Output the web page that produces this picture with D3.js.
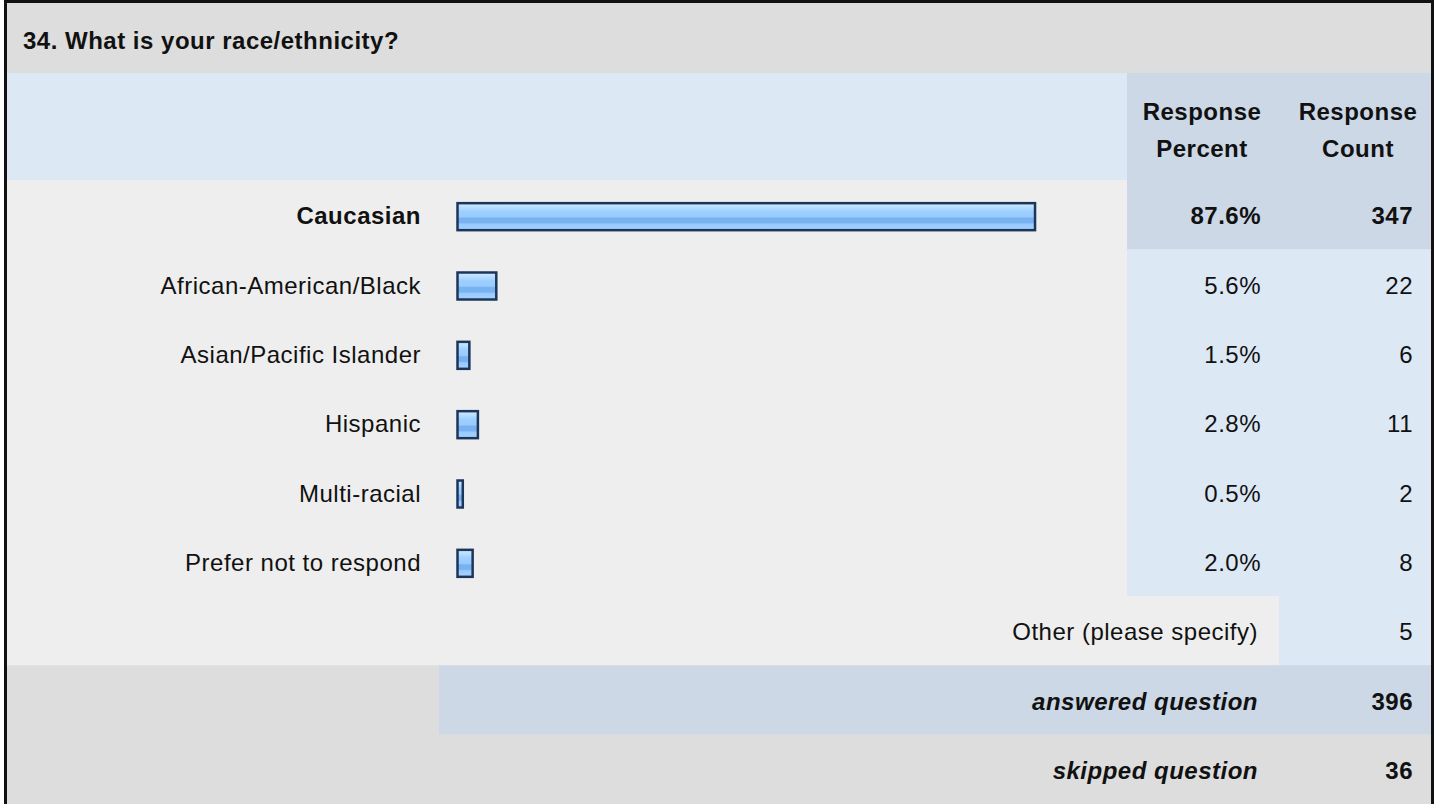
<!DOCTYPE html>
<html>
<head>
<meta charset="utf-8">
<script src="https://cdn.jsdelivr.net/npm/d3@7"></script>
<style>
  body { margin: 0; background: #fff; }
  text { font-family: Arial, "Liberation Sans", sans-serif; font-size: 24px; letter-spacing: 0.5px; fill: #111; }
  .bold { font-weight: bold; }
  .ital { font-style: italic; font-weight: bold; }
</style>
</head>
<body>
<div id="chart"></div>
<script>
/****************************************/
/*****  Data   *****/
/****************************************/
const questionTitle = "34. What is your race/ethnicity?";
const answerLabels = ["Caucasian", "African-American/Black", "Asian/Pacific Islander", "Hispanic", "Multi-racial", "Prefer not to respond"];
const responsePercents = [87.6, 5.6, 1.5, 2.8, 0.5, 2.0];
const responseCounts = [347, 22, 6, 11, 2, 8];
const otherLabel = "Other (please specify)";
const otherCount = 5;
const summaryLabels = ["answered question", "skipped question"];
const summaryCounts = [396, 36];
const headerPercent = ["Response", "Percent"];
const headerCount = ["Response", "Count"];

/****************************************/
/*****  Layout   *****/
/****************************************/
const width = 1434;
const height = 804;
const left = 6;
const right = 1431;
const titleBottom = 73;
const headerBottom = 180;
const pctColX = 1127;     // start of percent column
const cntColX = 1279;     // start of count column
const labelRight = 421;
const barLeft = 456;

const svg = d3.select('#chart')
  .append('svg')
    .attr('width', width)
    .attr('height', height);

// one band for every row under the header
const rowKeys = answerLabels.concat(['other', 'answered', 'skipped']);
const y = d3.scaleBand()
  .domain(rowKeys)
  .range([headerBottom, height]);

const maxPct = d3.max(responsePercents);
const barScale = d3.scaleLinear()
  .domain([0, 100])
  .range([0, 657]);

// Title bar
svg.append('rect')
  .attr('x', left).attr('y', 0)
  .attr('width', right - left).attr('height', titleBottom)
  .attr('fill', '#dddddd');
svg.append('text')
  .attr('class', 'bold')
  .attr('x', 23).attr('y', 49)
  .text(questionTitle);

// Header row
svg.append('rect')
  .attr('x', left).attr('y', titleBottom)
  .attr('width', right - left).attr('height', headerBottom - titleBottom)
  .attr('fill', '#dde8f5');
svg.append('rect')
  .attr('x', pctColX).attr('y', titleBottom)
  .attr('width', right - pctColX).attr('height', headerBottom - titleBottom)
  .attr('fill', '#ccd8e6');

[[headerPercent, (pctColX + cntColX) / 2 - 1], [headerCount, (cntColX + right) / 2 + 3]].forEach(([lines, cx]) => {
  svg.append('text')
    .attr('class', 'bold')
    .attr('text-anchor', 'middle')
    .selectAll('tspan')
    .data(lines)
    .join('tspan')
      .attr('x', cx)
      .attr('y', (d, i) => 120 + i * 37)
      .text(d => d);
});

// Answer rows
const rows = svg.append('g')
  .attr('class', 'rows')
  .selectAll('g')
  .data(answerLabels.map((label, i) => ({ label, pct: responsePercents[i], count: responseCounts[i] })))
  .join('g');

rows.append('rect')
  .attr('x', left).attr('y', d => y(d.label))
  .attr('width', pctColX - left).attr('height', y.bandwidth() + 0.5)
  .attr('fill', '#eeeeee');
rows.append('rect')
  .attr('x', pctColX).attr('y', d => y(d.label))
  .attr('width', right - pctColX).attr('height', y.bandwidth() + 0.5)
  .attr('fill', d => d.pct === maxPct ? '#ccd8e6' : '#dde8f5');

// bar gradient
const defs = svg.append('defs');
const grad = defs.append('linearGradient')
  .attr('id', 'barFill')
  .attr('x1', 0).attr('y1', 0).attr('x2', 0).attr('y2', 1);
[[0, '#d4ebff'], [0.18, '#b3dbff'], [0.3, '#9dcfff'], [0.5, '#99ccff'], [0.56, '#78b2f0'], [0.72, '#78b2f0'], [0.78, '#9acbff'], [1, '#a4d2ff']]
  .forEach(([o, c]) => grad.append('stop').attr('offset', o).attr('stop-color', c));

const barH = 27;
rows.append('rect')
  .attr('x', barLeft + 1.5)
  .attr('y', d => y(d.label) + y.bandwidth() / 2 - barH / 2 + 2)
  .attr('width', d => barScale(d.pct) + 2)
  .attr('height', barH)
  .attr('fill', 'url(#barFill)')
  .attr('stroke', '#1c365b')
  .attr('stroke-width', 2.5);

const textY = d => y(d.label) + y.bandwidth() / 2 + 1;

rows.append('text')
  .attr('class', d => d.pct === maxPct ? 'bold' : null)
  .attr('x', labelRight)
  .attr('y', textY)
  .attr('dy', '0.36em')
  .attr('text-anchor', 'end')
  .text(d => d.label);

rows.append('text')
  .attr('class', d => d.pct === maxPct ? 'bold' : null)
  .attr('x', 1261)
  .attr('y', textY)
  .attr('dy', '0.36em')
  .attr('text-anchor', 'end')
  .text(d => d.pct.toFixed(1) + '%');

rows.append('text')
  .attr('class', d => d.pct === maxPct ? 'bold' : null)
  .attr('x', 1413)
  .attr('y', textY)
  .attr('dy', '0.36em')
  .attr('text-anchor', 'end')
  .text(d => d.count);

// Other row
const yOther = y('other');
svg.append('rect')
  .attr('x', left).attr('y', yOther)
  .attr('width', cntColX - left).attr('height', y.bandwidth() + 0.5)
  .attr('fill', '#eeeeee');
svg.append('rect')
  .attr('x', cntColX).attr('y', yOther)
  .attr('width', right - cntColX).attr('height', y.bandwidth() + 0.5)
  .attr('fill', '#dde8f5');
svg.append('text')
  .attr('x', 1258).attr('y', yOther + y.bandwidth() / 2 + 1).attr('dy', '0.36em')
  .attr('text-anchor', 'end')
  .text(otherLabel);
svg.append('text')
  .attr('x', 1413).attr('y', yOther + y.bandwidth() / 2 + 1).attr('dy', '0.36em')
  .attr('text-anchor', 'end')
  .text(otherCount);

// Summary rows
const summary = svg.append('g')
  .selectAll('g')
  .data(summaryLabels.map((label, i) => ({ key: i === 0 ? 'answered' : 'skipped', label, count: summaryCounts[i] })))
  .join('g');

summary.append('rect')
  .attr('x', left).attr('y', d => y(d.key))
  .attr('width', right - left).attr('height', y.bandwidth() + 0.5)
  .attr('fill', '#dddddd');
summary.filter(d => d.key === 'answered')
  .append('rect')
  .attr('x', 439).attr('y', d => y(d.key))
  .attr('width', right - 439).attr('height', y.bandwidth())
  .attr('fill', '#ccd8e6');
summary.append('text')
  .attr('class', 'ital')
  .attr('x', 1258).attr('y', d => y(d.key) + y.bandwidth() / 2 + 1).attr('dy', '0.36em')
  .attr('text-anchor', 'end')
  .text(d => d.label);
summary.append('text')
  .attr('class', 'bold')
  .attr('x', 1413).attr('y', d => y(d.key) + y.bandwidth() / 2 + 1).attr('dy', '0.36em')
  .attr('text-anchor', 'end')
  .text(d => d.count);

// Outer frame (left, top, right)
svg.append('path')
  .attr('d', `M5.5,${height} V1.5 H1432.5 V${height}`)
  .attr('fill', 'none')
  .attr('stroke', '#111')
  .attr('stroke-width', 3);
</script>
</body>
</html>
